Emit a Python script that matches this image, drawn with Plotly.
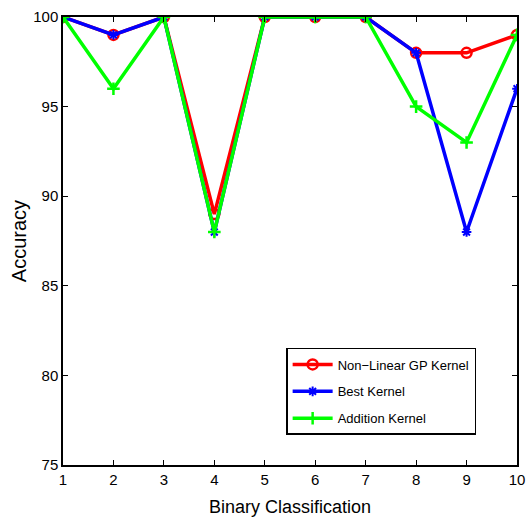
import plotly.graph_objects as go

x_vals = [1, 2, 3, 4, 5, 6, 7, 8, 9, 10]
nonlinear_gp = [100, 99, 100, 89, 100, 100, 100, 98, 98, 99]
best_kernel = [100, 99, 100, 88, 100, 100, 100, 98, 88, 96]
addition_kernel = [100, 96, 100, 88, 100, 100, 100, 95, 93, 99]
y_ticks = [75, 80, 85, 90, 95, 100]

FONT = "Liberation Sans, Arial, Helvetica"

fig = go.Figure()
fig.add_trace(go.Scatter(
    x=x_vals, y=nonlinear_gp, name="Non\u2212Linear GP Kernel", mode="lines+markers",
    legendgroup="g1",
    line=dict(color="#ff0000", width=3.5),
    marker=dict(symbol="circle-open", size=10, color="#ff0000", line=dict(width=2.5))))
fig.add_trace(go.Scatter(
    x=x_vals, y=best_kernel, name="Best Kernel", mode="lines+markers",
    legendgroup="g2",
    line=dict(color="#0000ff", width=3.5),
    marker=dict(symbol="asterisk-open", size=8, color="#0000ff", line=dict(width=2))))
fig.add_trace(go.Scatter(
    x=x_vals, y=addition_kernel, name="Addition Kernel", mode="lines+markers",
    legendgroup="g3",
    line=dict(color="#00ff00", width=3.5),
    marker=dict(symbol="cross-thin-open", size=9, color="#00ff00", line=dict(width=2.5))))

axis_common = dict(
    showline=True, linecolor="black", linewidth=1.5, mirror="ticks",
    ticks="inside", ticklen=5, tickcolor="black", showgrid=False, zeroline=False,
    automargin=False,
    tickfont=dict(family=FONT, size=15, color="black"),
)

fig.update_layout(
    width=527, height=523,
    margin=dict(l=63, r=10, t=17, b=58),
    paper_bgcolor="white", plot_bgcolor="white",
    font=dict(family=FONT, color="black"),
    xaxis=dict(range=[1, 10], tickvals=x_vals,
               title=dict(text="Binary Classification", font=dict(size=18), standoff=14),
               **axis_common),
    yaxis=dict(range=[75, 100], tickvals=y_ticks,
               title=dict(text="Accuracy", font=dict(size=20), standoff=1),
               **axis_common),
    legend=dict(x=0.91, y=0.067, xanchor="right", yanchor="bottom",
                bgcolor="white", bordercolor="black", borderwidth=1.5,
                font=dict(size=13, color="black"), tracegroupgap=7,
                itemwidth=40),
    showlegend=True,
)

fig.write_html("out.html", config={"displayModeBar": False},
               post_script="document.body.style.margin='0';")
